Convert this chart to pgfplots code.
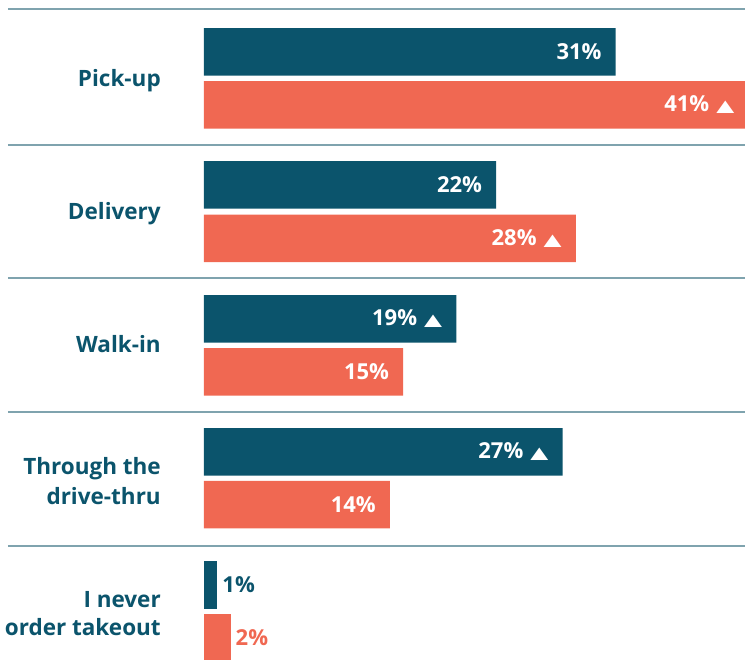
\documentclass[border=0pt]{standalone}
\usepackage{pgfplots}
\pgfplotsset{compat=1.18}
\usepackage{fontspec}
\setmainfont{Open Sans}
\newfontfamily\sym{DejaVu Sans}
\definecolor{cteal}{HTML}{0B546C}
\definecolor{ccoral}{HTML}{F06852}
\definecolor{cline}{HTML}{7FA3AE}
\newcommand\tri{\hspace{7pt}\resizebox{18pt}{10.5pt}{\sym ▲}}
\begin{document}
\begin{tikzpicture}
\begin{axis}[
  width=745pt, height=660pt, scale only axis,
  xmin=-15.36, xmax=40.74, ymin=0, ymax=660, y dir=reverse,
  axis lines=none, clip=false,
  xbar, bar width=47.5, bar shift=0,
  point meta=explicit symbolic,
  nodes near coords,
  every node near coord/.append style={font=\fontsize{22}{26}\selectfont\bfseries, inner sep=0pt},
]
\addplot[fill=cteal, draw=none, every node near coord/.append style={anchor=east, xshift=-14pt, text=white}]
  coordinates {(31,52)[31\%] (22,185)[22\%] (19,319)[19\%\tri] (27,452)[27\%\tri]};
\addplot[fill=cteal, draw=none, every node near coord/.append style={anchor=west, xshift=5pt, text=cteal}]
  coordinates {(1,585)[1\%]};
\addplot[fill=ccoral, draw=none, every node near coord/.append style={anchor=east, xshift=-14pt, text=white}]
  coordinates {(41,105)[41\%\tri] (28,238.5)[28\%\tri] (15,372)[15\%] (14,504.5)[14\%]};
\addplot[fill=ccoral, draw=none, every node near coord/.append style={anchor=west, xshift=5pt, text=ccoral}]
  coordinates {(2,638)[2\%]};
\pgfplotsinvokeforeach{9,145,278,412,546}{
  \draw[cline, line width=2pt] (axis cs:-14.76,#1) -- (axis cs:40.74,#1);
}
\tikzset{catlab/.style={anchor=base east, text=cteal, inner sep=0pt, font=\fontsize{22.5}{27}\selectfont\bfseries}}
\node[catlab] at (axis cs:-3.24,87) {Pick-up};
\node[catlab] at (axis cs:-3.24,220) {Delivery};
\node[catlab] at (axis cs:-3.24,353) {Walk-in};
\node[catlab] at (axis cs:-3.24,475) {Through the};
\node[catlab] at (axis cs:-3.24,504) {drive-thru};
\node[catlab] at (axis cs:-3.24,607) {I never};
\node[catlab] at (axis cs:-3.24,635) {order takeout};
\end{axis}
\pgfresetboundingbox
\path[use as bounding box] (current axis.south west) rectangle (current axis.north east);
\end{tikzpicture}
\end{document}
